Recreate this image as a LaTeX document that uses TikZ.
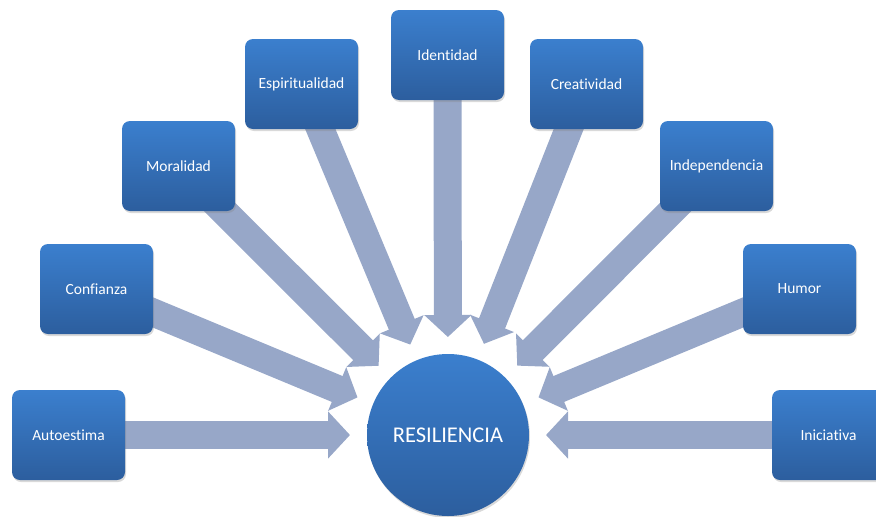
\documentclass[tikz,border=0pt]{standalone}
\usepackage{fontspec}
\setmainfont{Carlito}[Ligatures={NoCommon}]
\usetikzlibrary{arrows.meta,calc,shadows,backgrounds}
\definecolor{boxtop}{HTML}{3B7FCE}
\definecolor{boxbot}{HTML}{2C5E9E}
\definecolor{arrowcol}{HTML}{97A7C8}
\tikzset{
  item/.style={rectangle,rounded corners=8pt,minimum width=113pt,minimum height=90pt,
    top color=boxtop,bottom color=boxbot,text=white,font=\fontsize{15.5}{18}\selectfont,
    drop shadow={opacity=0.3,shadow xshift=1pt,shadow yshift=-2pt}},
  core/.style={circle,minimum size=162pt,inner sep=0pt,top color=boxtop,bottom color=boxbot,
    text=white,font=\fontsize{22.5}{26}\selectfont,
    drop shadow={opacity=0.3,shadow xshift=1pt,shadow yshift=-2pt}},
  fat/.style={line width=28pt,arrowcol,-{Triangle[width=46pt,length=22pt]}}
}
\begin{document}
\begin{tikzpicture}[x=1pt,y=-1pt]
\useasboundingbox (0,0) rectangle (876,517);
\node[core] (res) at (448,435) {RESILIENCIA};
\node[item] (auto) at (68.5,435) {Autoestima};
\node[item] (conf) at (96.5,289) {Confianza};
\node[item] (moral) at (178.5,166) {Moralidad};
\node[item] (espir) at (301.5,84) {Espiritualidad};
\node[item] (ident) at (447.5,55) {Identidad};
\node[item] (creat) at (586.5,84) {Creatividad};
\node[item] (indep) at (716.5,166) {Independencia};
\node[item] (humor) at (799.5,289) {Humor};
\node[item] (inic) at (828.5,435) {Iniciativa};
\begin{scope}[on background layer]
\foreach \n in {auto,conf,moral,espir,ident,creat,indep,humor,inic}
  \draw[fat] (\n.center) -- ($(res)!98pt!(\n)$);
\end{scope}
\end{tikzpicture}
\end{document}
